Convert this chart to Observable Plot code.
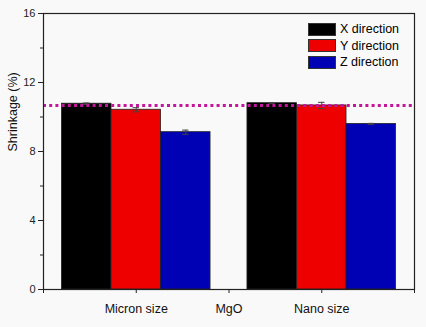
<!DOCTYPE html>
<html><head><meta charset="utf-8">
<script src="https://cdn.jsdelivr.net/npm/d3@7"></script>
<script src="https://cdn.jsdelivr.net/npm/@observablehq/plot@0.6"></script>
<style>
body{margin:0;background:#f9f9f9;font-family:"Liberation Sans",Arial,sans-serif;}
#wrap{position:relative;width:426px;height:327px;}
.leg{position:absolute;left:308px;font-size:12.5px;color:#000;}
.leg div{display:flex;align-items:center;height:16.5px;}
.leg span.sw{display:inline-block;width:28px;height:13px;border:1px solid #333;margin-right:4px;box-sizing:border-box;}
</style></head><body>
<div id="wrap"></div>
<script>
const groups = ["Micron size", "MgO", "Nano size"];
const series = ["X direction", "Y direction", "Z direction"];
const colors = ["#000000", "#ee0000", "#0000b4"];
const micron = [10.77, 10.42, 9.12];
const micronErr = [0.04, 0.12, 0.12];
const nano = [10.80, 10.67, 9.60];
const nanoErr = [0.03, 0.18, 0.03];
const refLine = 10.67;
const yTicks = [0, 4, 8, 12, 16];
const yMinor = [2, 6, 10, 14];

const barW = 0.534;
const data = [];
[[micron, micronErr, 0], [nano, nanoErr, 2]].forEach(([vals, errs, gi]) => {
  vals.forEach((v, i) => {
    const c = gi + 1 + (i - 1) * barW;
    data.push({group: groups[gi], series: series[i], value: v, err: errs[i],
      x1: c - barW / 2, x2: c + barW / 2, xc: c});
  });
});

const plot = Plot.plot({
  width: 426, height: 327,
  marginLeft: 43, marginRight: 12, marginTop: 13, marginBottom: 38,
  style: {background: "transparent", fontFamily: "Liberation Sans, Arial, sans-serif", fontSize: "11px", color: "#222"},
  x: {domain: [0, 4], axis: null, label: null},
  y: {domain: [0, 16], axis: null, label: null},
  color: {domain: series, range: colors},
  marks: [
    Plot.rectY(data, {x1: "x1", x2: "x2", y1: 0, y2: "value", fill: "series", stroke: "#222", strokeWidth: 0.8}),
    Plot.ruleX(data, {x: "xc", y1: d => d.value - d.err, y2: d => d.value + d.err, stroke: "#444", strokeWidth: 1}),
    Plot.ruleY(data, {x1: d => d.xc - 0.035, x2: d => d.xc + 0.035, y: d => d.value + d.err, stroke: "#444", strokeWidth: 1}),
    Plot.ruleY(data, {x1: d => d.xc - 0.035, x2: d => d.xc + 0.035, y: d => d.value - d.err, stroke: "#444", strokeWidth: 1}),
    Plot.ruleY([refLine], {stroke: "#c4169a", strokeWidth: 3, strokeDasharray: "3,3.2"}),
    Plot.frame({stroke: "#222", strokeWidth: 1.2}),
    Plot.axisY(yTicks, {label: null, tickSize: 5, tickPadding: 3, fontSize: 11, stroke: "#222", fill: "#222"}),
    Plot.axisY(yMinor, {label: null, tickSize: 3, tickFormat: () => "", stroke: "#222"}),
    Plot.axisX([0, 1, 2, 3, 4], {label: null, tickSize: 4, tickPadding: 11, fontSize: 12.5, fill: "#111", stroke: "#222",
      tickFormat: d => (d >= 1 && d <= 3) ? groups[d - 1] : ""}),
    Plot.text(["Shrinkage (%)"], {frameAnchor: "left", dx: -31, rotate: -90, fontSize: 12.5, fill: "#111"})
  ]
});
const wrap = document.getElementById("wrap");
wrap.appendChild(plot);
const leg = document.createElement("div");
leg.className = "leg";
leg.style.top = "21px";
series.forEach((s, i) => {
  const row = document.createElement("div");
  row.innerHTML = `<span class="sw" style="background:${colors[i]}"></span>${s}`;
  leg.appendChild(row);
});
wrap.appendChild(leg);
</script>
</body></html>
